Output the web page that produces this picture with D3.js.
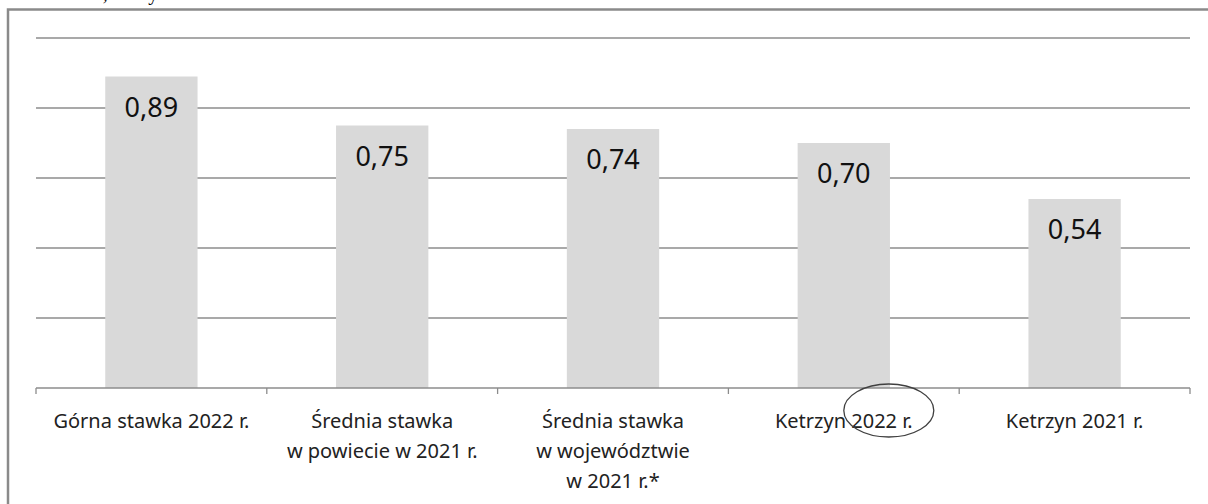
<!DOCTYPE html>
<html lang="pl">
<head>
<meta charset="utf-8">
<script src="https://d3js.org/d3.v7.min.js"></script>
<style>
  body { margin: 0; background: #fff; }
  svg { display: block; }
</style>
</head>
<body>
<svg id="main" width="1208" height="504"></svg>
<script>
// data
const categories = [
  ["Górna stawka 2022 r."],
  ["Średnia stawka", "w powiecie w 2021 r."],
  ["Średnia stawka", "w województwie", "w 2021 r.*"],
  ["Ketrzyn 2022 r."],
  ["Ketrzyn 2021 r."]
];
const values = [0.89, 0.75, 0.74, 0.70, 0.54];
const valueLabels = ["0,89", "0,75", "0,74", "0,70", "0,54"];
const yTicks = [0.2, 0.4, 0.6, 0.8, 1.0];
const caption = "Kwoty w zł/m² – mieszkania, domy.";
const circledCategory = 3;

let svg = d3.select("svg#main");
let W = 1208, H = 504;
let plotLeft = 36, plotRight = 1190, plotTop = 38, plotBase = 388;
let font = "'Noto Sans', 'Open Sans', sans-serif";

let x = d3.scaleBand()
    .domain(d3.range(values.length))
    .range([plotLeft, plotRight])
    .paddingInner(0.6)
    .paddingOuter(0.3);

let y = d3.scaleLinear()
    .domain([0, 1])
    .range([plotBase, plotTop]);

// caption of the page above, mostly cut off by the top edge
svg.append("text")
    .attr("x", 162).attr("y", 0)
    .attr("text-anchor", "end")
    .style("font-family", "'Liberation Serif', serif")
    .style("font-size", "20px")
    .attr("fill", "#000")
    .text(caption);

// frame
svg.append("path")
    .attr("d", "M8," + H + "V9.5H" + W)
    .attr("fill", "none")
    .attr("stroke", "#8a8a8a")
    .attr("stroke-width", 2.5);

// gridlines
svg.selectAll(".grid").data(yTicks)
    .enter().append("line")
    .attr("class", "grid")
    .attr("x1", plotLeft).attr("x2", plotRight)
    .attr("y1", d => y(d)).attr("y2", d => y(d))
    .attr("stroke", "#8c8c8c")
    .attr("stroke-width", 1.3);

// bars
svg.selectAll(".bar").data(values)
    .enter().append("rect")
    .attr("class", "bar")
    .attr("x", (d, i) => x(i))
    .attr("width", x.bandwidth())
    .attr("y", d => y(d))
    .attr("height", d => y(0) - y(d))
    .attr("fill", "#d9d9d9");

// x axis with ticks at category boundaries
svg.append("line")
    .attr("x1", plotLeft).attr("x2", plotRight)
    .attr("y1", y(0)).attr("y2", y(0))
    .attr("stroke", "#8c8c8c")
    .attr("stroke-width", 1.3);

svg.selectAll(".tick").data(d3.range(values.length + 1))
    .enter().append("line")
    .attr("class", "tick")
    .attr("x1", i => plotLeft + i * x.step()).attr("x2", i => plotLeft + i * x.step())
    .attr("y1", y(0)).attr("y2", y(0) + 6)
    .attr("stroke", "#8c8c8c")
    .attr("stroke-width", 1.3);

// value labels
svg.selectAll(".val").data(values)
    .enter().append("text")
    .attr("class", "val")
    .attr("x", (d, i) => x(i) + x.bandwidth() / 2)
    .attr("y", d => y(d) + 40)
    .attr("text-anchor", "middle")
    .style("font-family", font)
    .style("font-size", "27px")
    .attr("fill", "#111")
    .text((d, i) => valueLabels[i]);

// category labels
let cat = svg.selectAll(".cat").data(categories)
    .enter().append("text")
    .attr("class", "cat")
    .attr("text-anchor", "middle")
    .style("font-family", font)
    .style("font-size", "20px")
    .attr("fill", "#222");

cat.selectAll("tspan").data((d, i) => d.map(t => ({t: t, i: i})))
    .enter().append("tspan")
    .attr("x", d => x(d.i) + x.bandwidth() / 2)
    .attr("y", (d, j) => y(0) + 40 + j * 30)
    .text(d => d.t);

// hand-drawn ellipse around "2022 r."
svg.append("ellipse")
    .attr("cx", x(circledCategory) + x.bandwidth() / 2 + 45)
    .attr("cy", y(0) + 22.5)
    .attr("rx", 45).attr("ry", 26.5)
    .attr("fill", "none")
    .attr("stroke", "#404040")
    .attr("stroke-width", 1.3);
</script>
</body>
</html>
